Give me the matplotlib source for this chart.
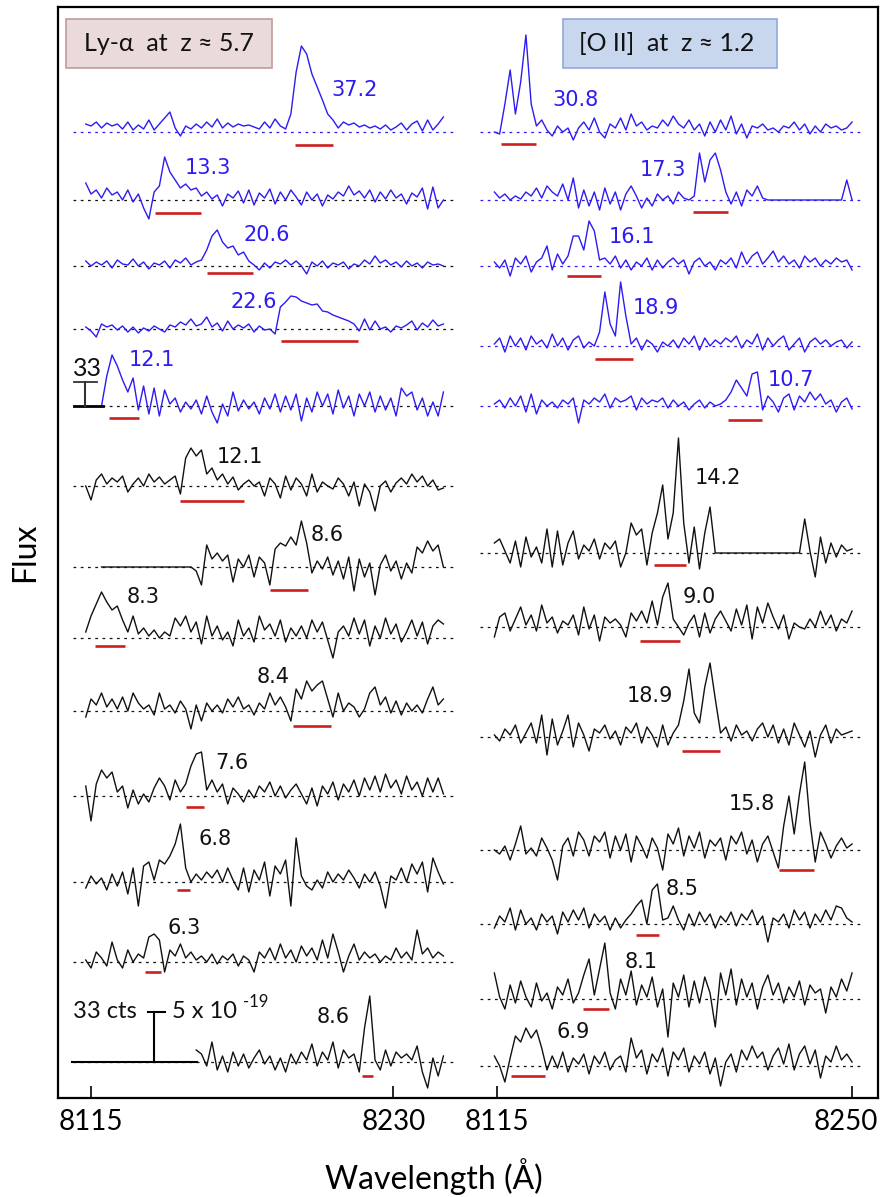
import matplotlib
matplotlib.use("Agg")
import matplotlib.pyplot as plt
import numpy as np
from matplotlib.patches import Rectangle

plt.rcParams['font.family'] = ['Lato', 'DejaVu Sans']

STEP = 2.0
LAM0_LEFT = 8113.0
LAM0_RIGHT = 8114.0

# ---------------- Left column: Ly-alpha candidates (flux offsets from baseline) -------------
lya_1 = [8,6,10,4,9,6,8,3,10,2,7,3,12,2,8,14,20,4,-4,6,3,8,4,10,5,13,4,9,5,8,6,7,5,3,10,4,13,6,3,18,60,86,78,58,45,32,18,12,4,10,7,9,5,7,4,6,3,7,2,5,9,2,8,11,1,12,2,8,15]
lya_2 = [17,6,10,2,12,5,8,0,10,-2,6,-8,-19,8,14,43,28,20,12,16,10,12,4,8,1,5,-6,6,2,9,-3,10,-5,7,2,11,-4,8,0,10,3,-5,8,0,6,-6,5,1,8,4,14,5,9,2,10,-2,8,1,10,2,6,-4,7,3,12,-9,13,-8,0]
lya_3 = [5,0,4,1,5,-2,6,2,1,7,0,4,-3,3,1,5,-2,6,3,8,1,4,6,16,30,36,24,18,20,11,14,5,1,-4,3,-2,4,2,6,1,5,0,-8,4,0,5,-2,3,1,4,-3,2,0,6,2,10,3,6,1,4,-1,5,0,3,-2,4,1,2,0]
lya_4 = [2,-2,-8,5,2,4,-1,3,-3,2,-4,1,-2,3,0,-3,4,2,7,4,10,3,5,12,2,6,-2,8,0,4,1,5,-3,3,-1,0,-5,22,27,33,32,28,26,24,25,18,17,14,12,10,8,5,-2,10,-1,8,0,2,-3,3,1,4,8,-1,6,2,9,3,5]
lya_5 = [0,30,51,40,26,14,28,-4,20,-8,18,-10,16,2,8,-6,4,-3,6,-8,10,-6,-17,2,-10,14,-5,6,-3,4,-8,8,-3,12,-6,10,-4,12,-15,8,-6,14,0,12,-8,16,-2,10,-10,12,0,14,-6,10,-4,8,-10,18,10,14,-4,8,-10,4,-10,14]
lya_6 = [0,-14,6,12,2,8,4,10,-6,2,8,0,12,4,9,2,6,10,-8,28,38,30,36,12,18,6,12,2,9,-4,2,6,0,4,-10,8,2,-12,10,-4,8,2,-10,12,-6,4,0,-3,8,2,-10,4,-20,2,-6,-25,0,5,-6,3,8,2,12,4,10,0,6,-4,-2]
lya_7 = [0]*18 + [-4,-18,22,8,14,6,12,-15,8,0,12,-10,10,4,-18,18,24,21,30,22,46,24,-6,6,-2,10,-8,6,-12,10,-24,8,-10,4,-28,2,12,-4,6,-12,4,-6,20,14,26,16,22,0]
lya_8 = [6,22,34,46,36,28,32,18,6,22,4,10,2,8,0,6,2,20,12,22,6,16,-6,22,2,12,-2,6,-8,18,2,10,-4,22,8,14,2,18,-4,10,2,12,0,18,6,16,-2,-20,6,12,2,20,4,18,-8,12,0,20,4,14,-4,6,18,2,16,-6,12,18,14]
lya_9 = [-6,12,6,18,4,12,2,14,0,18,8,2,6,-4,18,2,6,-2,10,2,-18,6,-10,8,0,6,-2,12,4,14,2,6,-4,8,2,18,6,14,4,-10,22,12,30,20,26,30,12,-6,18,0,8,4,-6,2,18,24,6,14,-2,10,-4,8,0,6,-2,12,24,6,12]
lya_10 = [10,-25,12,26,18,24,4,10,-12,6,-8,2,-6,8,18,10,-4,16,4,12,30,42,44,6,16,4,12,-8,8,2,-6,6,-2,10,4,14,0,10,-2,6,12,2,-8,8,-10,10,2,14,-4,12,4,16,0,18,6,20,4,22,8,16,2,20,6,14,0,18,4,18,2]
lya_11 = [-6,6,-2,4,-8,8,-4,10,-12,14,-24,16,20,2,22,18,26,38,58,14,0,8,2,10,4,12,0,14,2,-8,14,-10,12,2,20,-14,16,8,22,-24,44,6,-4,-8,2,-6,10,0,8,2,12,4,-6,8,0,10,-4,-26,6,2,14,0,18,8,20,-10,24,10,-2]
lya_12 = [2,-6,10,4,-4,20,2,-6,12,0,8,4,25,28,22,-10,12,6,18,4,10,2,6,0,8,-2,6,2,8,-4,6,2,-10,10,4,14,2,18,4,12,0,16,6,14,2,22,4,28,10,-10,6,18,2,10,4,8,0,6,2,14,4,10,2,32,8,14,4,10,6]
lya_13 = [12,8,-4,20,-8,6,-10,10,-4,8,-6,4,12,-2,6,-8,4,-10,8,-2,10,2,18,-4,10,2,20,-6,12,4,8,-10,34,66,2,-8,12,-4,10,4,8,2,16,-10,-26,4,-14,6]

left_spectra = [lya_1, lya_2, lya_3, lya_4, lya_5, lya_6, lya_7, lya_8, lya_9, lya_10, lya_11, lya_12, lya_13]
left_start = [0, 0, 0, 0, 3, 0, 3, 0, 0, 0, 0, 0, 21]
left_labels = ['37.2', '13.3', '20.6', '22.6', '12.1', '12.1', '8.6', '8.3', '8.4', '7.6', '6.8', '6.3', '8.6']
left_base = [966, 898, 832, 769, 692, 612, 531, 460, 387, 302, 216, 136, 36]
left_lab_lam = [8215.4, 8159.5, 8181.9, 8177.0, 8138.2, 8171.7, 8204.7, 8134.8, 8184.2, 8168.6, 8162.3, 8150.4, 8207.0]
left_lab_dy = [42, 32, 31, 27, 46, 29, 32, 41, 34, 33, 43, 34, 45]
left_ul = [(8192.6, 8207.0), (8139.3, 8156.8), (8159.1, 8176.6), (8187.2, 8216.5), (8121.8, 8133.3),
           (8148.8, 8173.2), (8183.1, 8197.5), (8116.5, 8127.9), (8191.8, 8206.3), (8151.1, 8158.0),
           (8147.7, 8152.6), (8135.5, 8141.6), (8218.0, 8222.2)]
left_ul_dy = [13, 13, 7, 12, 12, 15, 23, 8, 15, 11, 8, 10, 14]
left_blue = [True]*5 + [False]*8
left_dot_blue = [True] + [False]*12

# ---------------- Right column: [O II] candidates -------------
oii_1 = [0,-2,28,62,18,50,97,28,6,12,2,-4,6,0,4,-8,4,10,2,14,0,-6,8,4,14,2,18,6,10,2,6,4,12,6,16,8,4,12,2,8,-4,10,0,12,2,16,-2,8,-6,6,4,8,2,4,0,6,4,10,2,8,-2,6,0,8,4,6,2,4,10]
oii_2 = [8,2,6,0,4,1,8,4,12,2,14,8,4,16,0,22,-8,10,-6,8,-10,12,-4,8,-10,6,14,4,-8,2,-6,6,0,4,-4,8,2,0,4,47,18,40,47,30,8,-4,8,-6,10,4,14,2] + [0]*15 + [20,0]
oii_3 = [4,-2,6,-10,8,2,10,-6,4,8,20,-4,12,2,10,30,30,16,45,35,6,8,2,10,-2,6,-4,4,0,8,-4,6,-2,4,8,2,6,-8,4,8,0,4,-4,6,2,8,-2,14,2,10,14,2,8,15,4,10,2,6,-2,10,4,8,0,6,2,8,4,6,-4]
oii_4 = [2,8,-6,10,0,8,-4,10,2,6,-2,12,0,8,-4,6,10,-2,4,0,14,54,22,10,64,30,2,8,-4,6,2,-6,4,0,6,-2,8,2,10,-4,8,0,6,2,8,4,10,-2,6,2,12,-4,8,0,6,10,-4,2,8,-6,4,8,2,6,0,4,6,-2,4]
oii_5 = [2,6,-2,8,0,10,-6,12,-8,6,0,4,-2,6,2,8,-17,6,2,8,4,12,-2,8,4,6,10,-4,8,2,6,4,8,-2,6,0,4,-4,2,6,-2,4,0,2,6,14,26,18,10,32,34,-4,10,4,-6,8,12,-4,10,4,14,6,12,2,6,-6,4,8,-3]
oii_6 = [10,14,2,-10,12,-14,16,-4,6,-10,24,-14,22,-12,10,22,-6,8,2,14,-6,10,4,12,-14,0,30,18,24,-12,20,40,68,14,40,115,30,-10,26,-16,20,46] + [0]*17 + [34,2,-24,16,-10,10,-4,8,2,4]
oii_7 = [-10,10,14,-4,8,20,2,12,-4,22,4,10,-6,6,2,12,-8,20,-2,12,-14,10,4,8,2,-10,14,6,16,4,26,2,30,44,8,0,-8,4,12,-10,14,-6,8,16,6,-4,18,2,22,-12,20,4,24,10,-2,12,-12,4,0,-2,8,0,16,2,12,-4,8,4,16]
oii_8 = [2,-4,8,2,12,-6,4,14,-6,22,-18,18,-8,6,22,-10,14,2,-14,8,4,12,-2,6,-8,10,4,14,-6,10,2,-10,12,-8,4,12,36,68,24,14,50,74,38,4,10,-4,12,2,6,-4,8,14,0,12,-6,8,-8,14,2,-10,6,-20,2,12,-6,8,2,4,6]
oii_9 = [0,-4,4,-10,6,24,-4,2,-6,12,2,-10,-30,4,12,-6,18,10,-6,14,8,18,-8,14,0,16,-12,14,4,-8,12,2,-20,16,6,22,-6,14,2,18,-8,10,4,12,-10,14,6,18,-4,10,-12,6,14,-2,-18,24,54,16,56,88,28,-12,18,6,-8,4,12,2,6]
oii_10 = [-4,8,2,16,-6,14,0,6,-6,10,2,8,-10,12,2,14,4,16,-4,10,2,8,-6,6,-4,4,10,18,24,0,34,40,4,6,18,4,-6,10,-2,12,2,10,-4,8,2,12,-2,10,4,14,0,8,-18,6,2,10,-4,14,4,12,-4,10,2,14,4,18,16,6,2]
oii_11 = [26,2,-10,14,-4,18,2,-8,16,-2,6,-10,12,4,20,-4,6,24,40,4,30,56,6,-10,20,4,28,-6,14,2,22,-8,10,-38,16,2,24,-8,18,-4,22,6,-28,26,4,30,-6,20,2,16,-10,12,24,4,16,-4,12,2,18,-6,14,6,10,-14,12,2,20,8,26]
oii_12 = [10,0,-16,8,30,24,38,28,36,18,-4,10,-2,14,-6,8,2,12,-8,10,2,14,-4,6,10,-6,28,8,16,-8,12,4,18,-10,14,6,18,-6,10,2,14,-8,8,-20,4,12,-6,16,6,20,8,14,-4,10,18,2,22,-4,12,20,2,16,-12,10,4,20,6,12,4]

right_spectra = [oii_1, oii_2, oii_3, oii_4, oii_5, oii_6, oii_7, oii_8, oii_9, oii_10, oii_11, oii_12]
right_labels = ['30.8', '17.3', '16.1', '18.9', '10.7', '14.2', '9.0', '18.9', '15.8', '8.5', '8.1', '6.9']
right_base = [966, 898, 832, 752, 692, 545, 471, 361, 248, 174, 99, 32]
right_lab_lam = [8145.0, 8178.1, 8166.3, 8175.5, 8226.8, 8199.0, 8191.8, 8173.2, 8212.0, 8185.3, 8169.8, 8143.9]
right_lab_dy = [32, 30, 29, 38, 26, 75, 30, 41, 46, 35, 37, 34]
right_ul = [(8116.5, 8129.8), (8189.5, 8202.8), (8141.6, 8154.5), (8152.3, 8166.7), (8202.8, 8215.8),
            (8174.7, 8186.9), (8169.4, 8184.6), (8185.3, 8199.8), (8222.2, 8235.5), (8167.9, 8176.6),
            (8147.7, 8157.6), (8120.3, 8133.3)]
right_ul_dy = [12, 12, 10, 13, 14, 12, 14, 14, 20, 11, 10, 10]
right_blue = [True]*5 + [False]*7

left_ticks = [8115, 8230]
right_ticks = [8115, 8250]
scale_counts = 33

BLUE = '#2d1bf2'
RED = '#cc2020'
BLACK = '#111111'

W, H = 881, 1197
fig = plt.figure(figsize=(W / 100, H / 100), dpi=100)


def fx(px):
    return px / W


def fy(py):
    return 1 - py / H


frame = fig.add_axes([fx(58), fy(1098), fx(878) - fx(58), fy(7) - fy(1098)])
frame.set_xticks([])
frame.set_yticks([])
for s in frame.spines.values():
    s.set_linewidth(1.6)

axL = fig.add_axes([fx(58), fy(1098), fx(467) - fx(58), fy(7) - fy(1098)])
axR = fig.add_axes([fx(467), fy(1098), fx(878) - fx(467), fy(7) - fy(1098)])
for ax in (axL, axR):
    ax.patch.set_alpha(0)
    for s in ax.spines.values():
        s.set_visible(False)
    ax.set_ylim(0, 1091)
    ax.set_yticks([])
    ax.tick_params(axis='x', direction='in', length=8.6, width=1.2, pad=8, labelsize=20)
axL.set_xlim(8102.45, 8257.97)
axR.set_xlim(8103.59, 8259.87)
axL.set_xticks(left_ticks)
axR.set_xticks(right_ticks)
axR.set_xticklabels([str(right_ticks[0]), ''])
# last tick label sits against the frame edge, nudged left as in the original
axR.annotate(str(right_ticks[1]), xy=(right_ticks[1], 0), xycoords=('data', 'axes fraction'),
             xytext=(-4.5, -8), textcoords='offset points', ha='center', va='top', fontsize=20)

DOT = (0, (2.2, 3.6))


def draw(ax, lam0, vals, start, base, color, dotcolor, dot_rng, label, lab_lam, lab_dy, ul, ul_dy):
    lam = lam0 + STEP * (start + np.arange(len(vals)))
    ax.plot(dot_rng, [base, base], ls=DOT, lw=0.9, color=dotcolor, zorder=1)
    ax.plot(lam, base + np.asarray(vals, float), color=color, lw=1.0, zorder=3)
    ax.plot(ul, [base - ul_dy] * 2, color=RED, lw=1.9, solid_capstyle='butt', zorder=2)
    ax.text(lab_lam, base + lab_dy, label, ha='center', va='center', fontsize=15,
            family=['DejaVu Sans'], color=color)


for k, vals in enumerate(left_spectra):
    col = BLUE if left_blue[k] else BLACK
    dcol = BLUE if left_dot_blue[k] else BLACK
    draw(axL, LAM0_LEFT, vals, left_start[k], left_base[k], col, dcol, (8108.2, 8252.5),
         left_labels[k], left_lab_lam[k], left_lab_dy[k], left_ul[k], left_ul_dy[k])

for k, vals in enumerate(right_spectra):
    col = BLUE if right_blue[k] else BLACK
    draw(axR, LAM0_RIGHT, vals, 0, right_base[k], col, col, (8108.5, 8254.2),
         right_labels[k], right_lab_lam[k], right_lab_dy[k], right_ul[k], right_ul_dy[k])

# scale bar for the blue (upper) spectra
bb = left_base[4]
blue_bar = 24
axL.plot([8108.5, 8119.6], [bb, bb], color='black', lw=2.0, zorder=4)
axL.plot([8112.7, 8112.7], [bb, bb + blue_bar], color='#333333', lw=1.5, zorder=4)
axL.plot([8108.5, 8117.3], [bb + blue_bar] * 2, color='#333333', lw=1.3, zorder=4)
axL.text(8113.5, bb + 38, str(scale_counts), ha='center', va='center', fontsize=18, color=BLACK)

# scale bar for the black (lower) spectra
kb = left_base[12]
black_bar = 50
axL.plot([8107.8, 8155.3], [kb, kb], color='black', lw=1.5, zorder=4)
axL.plot([8139.0, 8139.0], [kb, kb + black_bar], color='black', lw=1.5, zorder=4)
axL.plot([8136.7, 8143.1], [kb + black_bar] * 2, color='black', lw=1.5, zorder=4)
axL.text(8132.5, kb + black_bar, f'{scale_counts} cts', ha='right', va='center', fontsize=17, color=BLACK)
axL.text(8145.8, kb + black_bar, '5 x 10', ha='left', va='center', fontsize=17, color=BLACK)
axL.text(8172.8, kb + black_bar + 10, '-19', ha='left', va='center', fontsize=12, color=BLACK)

# title boxes
axL.add_patch(Rectangle((8105.5, 1030), 78.3, 49, facecolor='#ebdada', edgecolor='#c29b9b', lw=1.2, zorder=2))
axL.text(8144.7, 1054.5, 'Ly-\u03b1  at  z \u2248 5.7', ha='center', va='center', fontsize=18, color=BLACK, zorder=3)
axR.add_patch(Rectangle((8140.1, 1030), 81.4, 49, facecolor='#c8d6ee', edgecolor='#8eaadb', lw=1.2, zorder=2))
axR.text(8179.6, 1054.5, '[O II]  at  z \u2248 1.2', ha='center', va='center', fontsize=18, color=BLACK, zorder=3)

fig.text(fx(433.5), fy(1177), 'Wavelength (\u00c5)', ha='center', va='center', fontsize=23)
fig.text(fx(25), fy(552), 'Flux', ha='center', va='center', fontsize=23, rotation=90)

fig.savefig('out.png', dpi=100)
